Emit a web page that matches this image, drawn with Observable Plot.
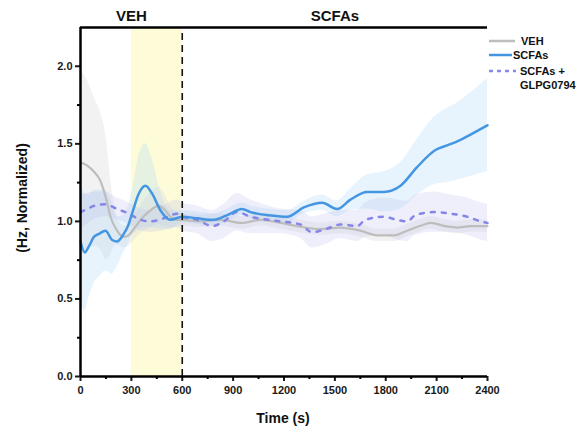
<!DOCTYPE html>
<html>
<head>
<meta charset="utf-8">
<script src="https://cdn.jsdelivr.net/npm/d3@7"></script>
<script src="https://cdn.jsdelivr.net/npm/@observablehq/plot@0.6"></script>
<style>
  body { margin: 0; background: #fff; }
  #chart { width: 580px; height: 432px; overflow: hidden; }
  svg { font-family: "Liberation Sans", Arial, sans-serif; }
</style>
</head>
<body>
<div id="chart"></div>
<script>
// ---- data ----
const vehT    = [0, 40, 80, 118, 150, 177, 210, 255, 283, 320, 354, 400, 462, 500, 530, 570, 600, 700, 825, 950, 1061, 1179, 1277, 1415, 1530, 1650, 1749, 1850, 1926, 2000, 2064, 2150, 2221, 2300, 2400];
const vehMean = [1.38, 1.36, 1.32, 1.26, 1.15, 1.03, 0.95, 0.90, 0.91, 0.96, 1.01, 1.06, 1.10, 1.07, 1.03, 1.01, 1.01, 1.00, 1.01, 0.99, 1.01, 0.99, 0.97, 0.95, 0.96, 0.94, 0.91, 0.91, 0.94, 0.97, 0.99, 0.97, 0.96, 0.97, 0.97];
const vehSd   = [0.60, 0.55, 0.48, 0.44, 0.40, 0.25, 0.10, 0.07, 0.07, 0.08, 0.09, 0.11, 0.12, 0.10, 0.07, 0.05, 0.04, 0.04, 0.04, 0.04, 0.04, 0.04, 0.04, 0.04, 0.04, 0.04, 0.04, 0.04, 0.04, 0.04, 0.04, 0.04, 0.04, 0.04, 0.04];

const scfaT    = [0, 25, 50, 79, 110, 147, 187, 216, 255, 280, 304, 344, 383, 422, 472, 530, 600, 688, 786, 865, 953, 1002, 1042, 1110, 1219, 1317, 1425, 1513, 1592, 1690, 1788, 1887, 1985, 2093, 2162, 2231, 2300, 2400];
const scfaMean = [0.87, 0.80, 0.84, 0.90, 0.92, 0.94, 0.88, 0.87, 0.92, 0.97, 1.05, 1.18, 1.23, 1.18, 1.07, 1.01, 1.03, 1.02, 1.01, 1.04, 1.08, 1.06, 1.05, 1.04, 1.03, 1.09, 1.12, 1.08, 1.14, 1.19, 1.19, 1.23, 1.35, 1.46, 1.49, 1.52, 1.56, 1.62];
const scfaSd   = [0.40, 0.38, 0.33, 0.30, 0.28, 0.26, 0.22, 0.16, 0.12, 0.12, 0.14, 0.24, 0.27, 0.22, 0.12, 0.06, 0.04, 0.04, 0.04, 0.04, 0.04, 0.04, 0.04, 0.04, 0.04, 0.04, 0.05, 0.05, 0.07, 0.11, 0.13, 0.15, 0.18, 0.22, 0.24, 0.25, 0.27, 0.30];

const glpgT    = [0, 40, 79, 147, 216, 285, 354, 413, 491, 570, 600, 688, 776, 845, 924, 1002, 1110, 1179, 1297, 1366, 1445, 1533, 1631, 1680, 1788, 1867, 1926, 1975, 2083, 2182, 2280, 2359, 2400];
const glpgMean = [1.06, 1.08, 1.10, 1.11, 1.08, 1.05, 1.01, 1.00, 1.02, 1.05, 1.03, 1.01, 0.97, 1.00, 1.06, 1.03, 1.01, 1.00, 0.98, 0.93, 0.95, 0.98, 0.97, 1.01, 1.03, 1.01, 1.00, 1.04, 1.06, 1.05, 1.03, 1.00, 0.99];
const glpgSd   = [0.11, 0.10, 0.09, 0.08, 0.07, 0.07, 0.07, 0.07, 0.08, 0.09, 0.09, 0.09, 0.10, 0.11, 0.12, 0.11, 0.09, 0.08, 0.09, 0.10, 0.10, 0.09, 0.10, 0.11, 0.12, 0.13, 0.13, 0.13, 0.13, 0.12, 0.12, 0.12, 0.12];

const seriesNames = ["VEH", "SCFAs", "SCFAs + GLPG0794"];
const phaseLabels = ["VEH", "SCFAs"];
const phaseCenters = [300, 1500];
const shadeStart = 300, shadeEnd = 600, switchTime = 600;
const xTicks = [0, 300, 600, 900, 1200, 1500, 1800, 2100, 2400];
const xMinor = [150, 450, 750, 1050, 1350, 1650, 1950, 2250];
const yTicks = [0, 0.5, 1.0, 1.5, 2.0];
const yMinor = [0.25, 0.75, 1.25, 1.75];
const yMax = 2.25, xMax = 2400;

// ---- build tables ----
const rows = (t, m, s) => t.map((ti, i) => ({t: ti, m: m[i], lo: m[i] - s[i], hi: m[i] + s[i]}));
const veh = rows(vehT, vehMean, vehSd);
const scfa = rows(scfaT, scfaMean, scfaSd);
const glpg = rows(glpgT, glpgMean, glpgSd);
const phases = phaseLabels.map((l, i) => ({label: l, x: phaseCenters[i]}));

const cGray = "#bdbdbd", cBlue = "#4496e2", cPurple = "#8686e8";

const chart = Plot.plot({
  width: 580, height: 432,
  marginLeft: 80, marginRight: 93, marginTop: 27, marginBottom: 56,
  style: {fontFamily: "Liberation Sans, Arial, sans-serif", background: "#fff", overflow: "visible"},
  x: {domain: [0, xMax]},
  y: {domain: [0, yMax]},
  marks: [
    Plot.rect([{x1: shadeStart, x2: shadeEnd}], {x1: "x1", x2: "x2", y1: 0, y2: yMax, fill: "#fdfbd8"}),
    Plot.areaY(veh, {x: "t", y1: "lo", y2: "hi", fill: "#dedede", fillOpacity: 0.4, curve: "monotone-x"}),
    Plot.areaY(scfa, {x: "t", y1: "lo", y2: "hi", fill: "#a8d6f7", fillOpacity: 0.28, curve: "monotone-x"}),
    Plot.areaY(glpg, {x: "t", y1: "lo", y2: "hi", fill: "#b4b4ee", fillOpacity: 0.22, curve: "monotone-x"}),
    Plot.lineY(veh, {x: "t", y: "m", stroke: cGray, strokeWidth: 2.2, curve: "monotone-x"}),
    Plot.lineY(glpg, {x: "t", y: "m", stroke: cPurple, strokeWidth: 2.5, strokeDasharray: "4,7", curve: "monotone-x"}),
    Plot.lineY(scfa, {x: "t", y: "m", stroke: cBlue, strokeWidth: 2.5, curve: "monotone-x"}),
    Plot.ruleX([switchTime], {y1: 0, y2: yMax, stroke: "#111", strokeWidth: 1.6, strokeDasharray: "7,5"}),
    Plot.axisX({ticks: xTicks, tickSize: 5, strokeWidth: 2, tickPadding: 5, fontSize: 11, fontWeight: "bold", label: null, tickFormat: d3.format("d"), color: "#1a1a1a"}),
    Plot.axisX({ticks: xMinor, tickSize: 3, strokeWidth: 2, text: null, label: null}),
    Plot.axisY({ticks: yTicks, tickSize: 5, strokeWidth: 2, tickPadding: 3, fontSize: 11, fontWeight: "bold", label: null, tickFormat: d3.format(".1f"), color: "#1a1a1a"}),
    Plot.axisY({ticks: yMinor, tickSize: 3, strokeWidth: 2, text: null, label: null}),
    Plot.ruleY([0], {x1: 0, x2: xMax, stroke: "#000", strokeWidth: 2.5}),
    Plot.ruleX([0], {y1: 0, y2: yMax, stroke: "#000", strokeWidth: 2.5}),
    Plot.ruleY([yMax], {x1: 0, x2: xMax, stroke: "#000", strokeWidth: 2.5}),
    Plot.text(phases, {x: "x", y: yMax, text: "label", dy: -11, fontSize: 15, fontWeight: "bold", fill: "#111"})
  ]
});
document.getElementById("chart").appendChild(chart);

// axis titles and legend (outside the plot frame)
const svg = d3.select(chart);
svg.append("text").attr("x", 283).attr("y", 423).attr("text-anchor", "middle")
  .attr("font-size", 14).attr("font-weight", "bold").attr("fill", "#111").text("Time (s)");
svg.append("text").attr("transform", "translate(27,198) rotate(-90)").attr("text-anchor", "middle")
  .attr("font-size", 14).attr("font-weight", "bold").attr("fill", "#111").text("(Hz, Normalized)");

const leg = svg.append("g").attr("font-size", 11).attr("font-weight", "bold").attr("fill", "#111").attr("text-anchor", "start");
const legItems = [
  {name: seriesNames[0], color: cGray, dash: null, y: 41, x2: 515, tx: 521},
  {name: seriesNames[1], color: cBlue, dash: null, y: 55, x2: 512, tx: 513},
  {name: seriesNames[2], color: cPurple, dash: "4,4", y: 71, x2: 516, tx: 520}
];
legItems.forEach(d => {
  leg.append("line").attr("x1", 489).attr("x2", d.x2).attr("y1", d.y).attr("y2", d.y)
    .attr("stroke", d.color).attr("stroke-width", 2.5).attr("stroke-dasharray", d.dash);
  const parts = d.name.split(" + ");
  if (parts.length > 1) {
    leg.append("text").attr("x", d.tx).attr("y", d.y + 4).attr("text-anchor", "start").text(parts[0] + " +");
    leg.append("text").attr("x", d.tx).attr("y", d.y + 18).attr("text-anchor", "start").text(parts[1]);
  } else {
    leg.append("text").attr("x", d.tx).attr("y", d.y + 4).attr("text-anchor", "start").text(d.name);
  }
});
</script>
</body>
</html>
